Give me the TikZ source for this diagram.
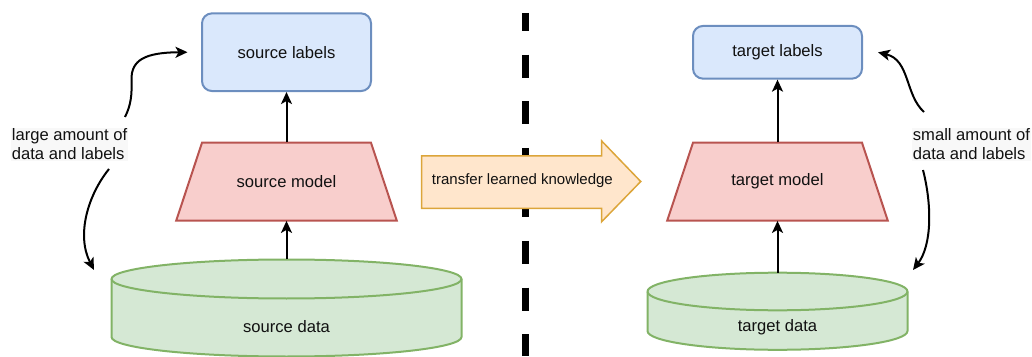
\documentclass[tikz,border=0pt]{standalone}
\usepackage{fontspec}
\setmainfont{Liberation Sans}
\usetikzlibrary{arrows.meta}

\definecolor{bluefill}{HTML}{DAE8FC}
\definecolor{blueline}{HTML}{6C8EBF}
\definecolor{redfill}{HTML}{F8CECC}
\definecolor{redline}{HTML}{B85450}
\definecolor{greenfill}{HTML}{D5E8D4}
\definecolor{greenline}{HTML}{82B366}
\definecolor{orangefill}{HTML}{FFE6CC}
\definecolor{orangeline}{HTML}{DCA53A}
\definecolor{inktext}{HTML}{111111}
\definecolor{notebg}{HTML}{F8F8F8}

\tikzset{
  txt/.style={font=\fontsize{16.6}{18.6}\selectfont, text=inktext, inner sep=0pt},
  labelbox/.style={txt, rectangle, rounded corners=10pt, draw=blueline, fill=bluefill,
    line width=2pt, minimum width=169pt},
  modelbox/.style={txt, rectangle, minimum width=220.7pt, minimum height=78pt},
  modelshape/.style={draw=redline, fill=redfill, line width=2pt},
  cyl/.style={draw=greenline, fill=greenfill, line width=2pt},
  note/.style={txt, align=left, fill=notebg, inner sep=1pt},
  flow/.style={line width=2pt, -{Stealth[length=12pt,width=11pt,inset=3pt]}},
  pointer/.style={line width=2pt, -{Stealth[length=12pt,width=11pt,inset=3pt]}},
  divider/.style={line width=7pt, dash pattern=on 23pt off 23.6pt, dash phase=5pt},
  xferarrow/.style={draw=orangeline, fill=orangefill, line width=1.5pt},
}

\begin{document}
\begin{tikzpicture}[x=1pt, y=1pt]
  \useasboundingbox (0,0) rectangle (1032,356);

  % dividing line between the two domains
  \draw[divider] (525.5,343) -- (525.5,0);

  % ---------- source side ----------
  \node[labelbox, minimum height=77.7pt] (slabels) at (286.5,303.8) {source labels};

  % trapezoid body of the source model
  \path[modelshape] (176.2,135.3) -- (396.8,135.3) -- (371,213.3) -- (202,213.3) -- cycle;
  \node[modelbox] (smodel) at (286.5,174.3) {source model};

  % source data cylinder
  \path[cyl] (111.5,77) -- (111.5,19)
    arc[start angle=180, end angle=360, x radius=175pt, y radius=19.5pt]
    -- (461.5,77)
    arc[start angle=0, end angle=180, x radius=175pt, y radius=19.5pt] -- cycle;
  \draw[cyl, fill=none] (111.5,77)
    arc[start angle=180, end angle=360, x radius=175pt, y radius=19.5pt];
  \node[txt] (sdata) at (286.5,29) {source data};
  \coordinate (sdatatop) at (286.5,96.5);

  \draw[flow] (sdatatop) -- (smodel.south);
  \draw[flow] (smodel.north) -- (slabels.south);

  % ---------- target side ----------
  \node[labelbox, minimum height=52.7pt] (tlabels) at (777.5,303.7) {target labels};

  % trapezoid body of the target model
  \path[modelshape] (667.2,135.3) -- (887.8,135.3) -- (862,213.3) -- (693,213.3) -- cycle;
  \node[modelbox] (tmodel) at (777.5,174.3) {target model};

  % target data cylinder
  \path[cyl] (647.5,64.5) -- (647.5,25)
    arc[start angle=180, end angle=360, x radius=130pt, y radius=18.8pt]
    -- (907.5,64.5)
    arc[start angle=0, end angle=180, x radius=130pt, y radius=18.8pt] -- cycle;
  \draw[cyl, fill=none] (647.5,64.5)
    arc[start angle=180, end angle=360, x radius=130pt, y radius=18.8pt];
  \node[txt] (tdata) at (777.5,29) {target data};
  \coordinate (tdatatop) at (777.5,83.3);

  \draw[flow] (tdatatop) -- (tmodel.south);
  \draw[flow] (tmodel.north) -- (tlabels.south);

  % ---------- knowledge transfer ----------
  \path[xferarrow] (421.7,200) -- (601.7,200) -- (601.7,215) -- (640.7,174.5)
    -- (601.7,134.3) -- (601.7,147.7) -- (421.7,147.7) -- cycle;
  \node[txt, font=\fontsize{15}{17}\selectfont] (xfer) at (522.4,175.3)
    {transfer learned knowledge};

  % ---------- notes with curved pointers ----------
  \node[note, anchor=west] (lnote) at (10.7,211.8) {large amount of\\data and labels};
  \node[note, anchor=west] (rnote) at (911.7,211.8) {small amount of\\data and labels};

  \coordinate (lup) at (125,239);
  \coordinate (ldown) at (109,187);
  \coordinate (rup) at (924,244);
  \coordinate (rdown) at (923,186);

  \draw[pointer] (lup) .. controls (131,251) and (132,261) .. (131.5,276)
    .. controls (131,296) and (145,303.5) .. ([xshift=-13.5pt]slabels.west);
  \draw[pointer] (ldown) .. controls (88,161) and (76,121) .. (94,86);
  \draw[pointer] (rup) .. controls (905,261) and (910,296) .. ([xshift=15pt]tlabels.east);
  \draw[pointer] (rdown) .. controls (932,151) and (932,111) .. (913,86);
\end{tikzpicture}
\end{document}
